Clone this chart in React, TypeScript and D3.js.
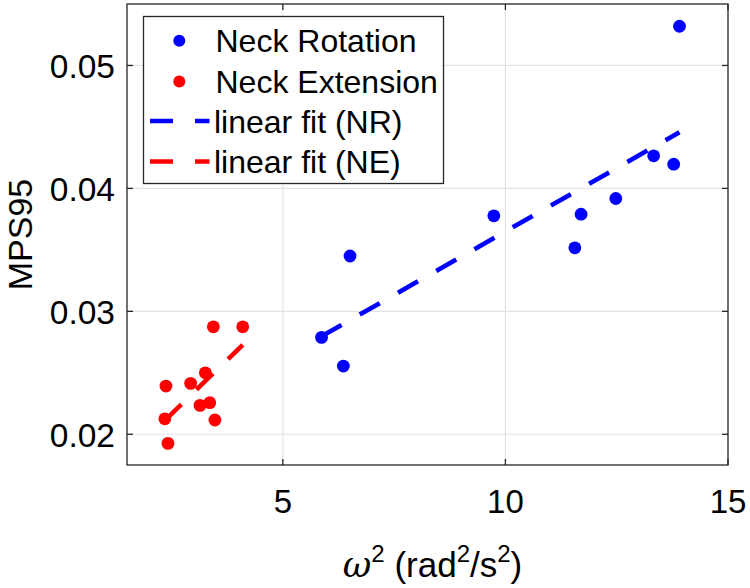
import React from "react";
import * as d3 from "d3";

const nrX = [5.87, 6.36, 6.51, 9.74, 11.56, 11.7, 12.48, 13.33, 13.78, 13.91];
const nrY = [0.02788, 0.02555, 0.0345, 0.03777, 0.03517, 0.0379, 0.03918, 0.04265, 0.04197, 0.05319];
const neX = [3.44, 4.1, 2.375, 2.93, 3.26, 3.14, 3.36, 2.35, 3.475, 2.42];
const neY = [0.02874, 0.02874, 0.02392, 0.02414, 0.025, 0.02235, 0.02257, 0.02126, 0.02116, 0.01926];
const xTicks = [5, 10, 15];
const yTicks = [0.02, 0.03, 0.04, 0.05];
const legendLabels = ["Neck Rotation", "Neck Extension", "linear fit (NR)", "linear fit (NE)"];

const W = 750, H = 588;
const L = 127, R = 728, T = 4, B = 465;
const FONT = "'Liberation Sans', Arial, Helvetica, sans-serif";

function fit(xs: number[], ys: number[]) {
  const mx = d3.mean(xs)!, my = d3.mean(ys)!;
  let sxy = 0, sxx = 0;
  xs.forEach((x, i) => { sxy += (x - mx) * (ys[i] - my); sxx += (x - mx) * (x - mx); });
  const b = sxy / sxx;
  const a = my - b * mx;
  const x0 = d3.min(xs)!, x1 = d3.max(xs)!;
  return [[x0, a + b * x0], [x1, a + b * x1]] as [number, number][];
}

export default function App() {
  const x = d3.scaleLinear().domain([1.5, 15]).range([L, R]);
  const y = d3.scaleLinear().domain([0.0175, 0.055]).range([B, T]);
  const line = d3.line<[number, number]>().x(d => x(d[0])).y(d => y(d[1]));
  const nrFit = fit(nrX, nrY);
  const neFit = fit(neX, neY);
  const axisColor = "#262626";
  const grid = "#e3e3e3";
  const dash = "23 21";
  const rows = [40.7, 81.5, 121, 161.5];
  return (
    <svg width={W} height={H} style={{ position: "absolute", left: 0, top: 0, background: "#fff" }} fontFamily={FONT}>
      <rect x={0} y={0} width={W} height={H} fill="#fff" />
      {xTicks.filter(t => t < 15).map(t => (
        <line key={"gx" + t} x1={x(t)} x2={x(t)} y1={T} y2={B} stroke={grid} strokeWidth={1.2} />
      ))}
      {yTicks.map(t => (
        <line key={"gy" + t} x1={L} x2={R} y1={y(t)} y2={y(t)} stroke={grid} strokeWidth={1.2} />
      ))}
      {nrX.map((v, i) => <circle key={"nr" + i} cx={x(v)} cy={y(nrY[i])} r={6.4} fill="#0000ff" />)}
      {neX.map((v, i) => <circle key={"ne" + i} cx={x(v)} cy={y(neY[i])} r={6.4} fill="#ff0000" />)}
      <path d={line(nrFit)!} fill="none" stroke="#0000ff" strokeWidth={4.6} strokeDasharray={dash} />
      <path d={line(neFit)!} fill="none" stroke="#ff0000" strokeWidth={4.6} strokeDasharray={dash} />
      <rect x={L} y={T} width={R - L} height={B - T} fill="none" stroke={axisColor} strokeWidth={1.3} />
      {xTicks.map(t => (
        <g key={"tx" + t}>
          <line x1={x(t)} x2={x(t)} y1={B} y2={B - 6} stroke={axisColor} strokeWidth={1.3} />
          <line x1={x(t)} x2={x(t)} y1={T} y2={T + 6} stroke={axisColor} strokeWidth={1.3} />
          <text x={x(t)} y={513} textAnchor="middle" fontSize={33} fill="#000">{t}</text>
        </g>
      ))}
      {yTicks.map(t => (
        <g key={"ty" + t}>
          <line x1={L} x2={L + 6} y1={y(t)} y2={y(t)} stroke={axisColor} strokeWidth={1.3} />
          <line x1={R} x2={R - 6} y1={y(t)} y2={y(t)} stroke={axisColor} strokeWidth={1.3} />
          <text x={115} y={y(t) + 12.5} textAnchor="end" fontSize={33.5} fill="#000">{d3.format(".2f")(t)}</text>
        </g>
      ))}
      <text transform={`translate(32,${(T + B) / 2}) rotate(-90)`} textAnchor="middle" fontSize={34} fill="#000">MPS95</text>
      <text x={(L + R) / 2 + 5} y={577} textAnchor="middle" fontSize={35} fill="#000">
        <tspan fontStyle="italic" fontFamily="'DejaVu Serif', serif">ω</tspan>
        <tspan dy={-15} fontSize={24}>2</tspan>
        <tspan dy={15}> (rad</tspan>
        <tspan dy={-15} fontSize={24}>2</tspan>
        <tspan dy={15}>/s</tspan>
        <tspan dy={-15} fontSize={24}>2</tspan>
        <tspan dy={15}>)</tspan>
      </text>
      <g>
        <rect x={143.5} y={16.5} width={300} height={167} fill="#fff" stroke={axisColor} strokeWidth={1.3} />
        <circle cx={179.3} cy={rows[0]} r={6} fill="#0000ff" />
        <circle cx={179.3} cy={rows[1]} r={6} fill="#ff0000" />
        <line x1={150} x2={209.5} y1={rows[2]} y2={rows[2]} stroke="#0000ff" strokeWidth={4.6} strokeDasharray="23 22" />
        <line x1={150} x2={209.5} y1={rows[3]} y2={rows[3]} stroke="#ff0000" strokeWidth={4.6} strokeDasharray="23 22" />
        {legendLabels.map((s, i) => (
          <text key={s} x={i < 2 ? 215.5 : 214} y={rows[i] + 11.5} fontSize={32} fill="#000">{s}</text>
        ))}
      </g>
    </svg>
  );
}
